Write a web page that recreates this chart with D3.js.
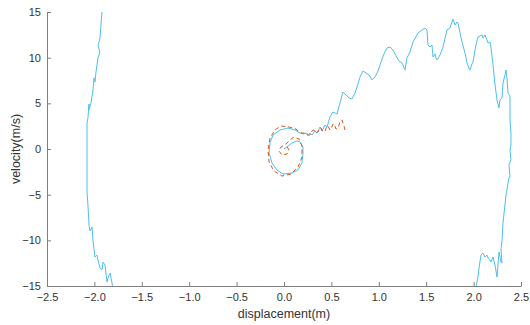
<!DOCTYPE html>
<html>
<head>
<meta charset="utf-8">
<script src="https://d3js.org/d3.v7.min.js"></script>
<style>
  body { margin: 0; background: #fff; }
  svg { display: block; font-family: "Liberation Sans", Arial, sans-serif; }
</style>
</head>
<body>
<svg id="chart" width="530" height="325"></svg>
<script>
// tick values
var xTicks = [-2.5, -2, -1.5, -1, -0.5, 0, 0.5, 1, 1.5, 2, 2.5];
var yTicks = [-15, -10, -5, 0, 5, 10, 15];

// blue trace, main part (displacement m, velocity m/s)
var blueX = [0, 0.084, 0.137, 0.169, 0.2, 0.2, 0.19, 0.148, 0.084, -0.011, -0.074, -0.127, -0.158, -0.148, -0.116, -0.042, 0.042, 0.116, 0.169, 0.2,
  0.243, 0.253, 0.274, 0.295, 0.327, 0.348, 0.38, 0.401, 0.432, 0.454, 0.485, 0.517, 0.559, 0.591, 0.622, 0.654, 0.686, 0.717, 0.749, 0.781,
  0.802, 0.833, 0.865, 0.897, 0.928, 0.96, 0.992, 1.023, 1.055, 1.087, 1.118, 1.15, 1.181, 1.213, 1.245, 1.276, 1.297, 1.329, 1.361, 1.414,
  1.456, 1.487, 1.508, 1.519, 1.54, 1.561, 1.572, 1.593, 1.603, 1.614, 1.646, 1.677, 1.719, 1.751, 1.772, 1.783, 1.804, 1.825, 1.835, 1.857,
  1.878, 1.909, 1.92, 1.931, 1.951, 1.962, 1.983, 1.994, 2.025, 2.046, 2.068, 2.089, 2.099, 2.12, 2.141, 2.152, 2.173, 2.184, 2.205, 2.226,
  2.247, 2.268, 2.278, 2.3, 2.31, 2.331, 2.342, 2.352, 2.363, 2.384, 2.384, 2.394, 2.394, 2.384, 2.394, 2.373, 2.384, 2.373, 2.342, 2.31,
  2.3, 2.289, 2.3, 2.289, 2.268, 2.257, 2.247, 2.226, 2.205, 2.184, 2.173, 2.152, 2.141, 2.12, 2.099, 2.078, 2.057, 2.046, 2.025, 2.015];
var blueV = [0, 0.66, 0.88, 0.77, 0.22, -0.44, -1.53, -2.3, -2.63, -2.74, -2.3, -1.53, -0.44, 0.66, 1.53, 2.08, 2.3, 2.08, 1.75, 1.64,
  1.75, 1.53, 1.75, 1.53, 1.97, 1.75, 2.41, 1.97, 2.63, 2.41, 3.5, 4.05, 3.83, 5.04, 6.24, 5.91, 5.59, 5.48, 6.13, 7.12,
  7.89, 8.54, 8.32, 8.11, 7.56, 7.89, 8.54, 9.53, 10.41, 11.06, 11.17, 10.84, 10.19, 9.64, 9.42, 8.65, 9.97, 10.62, 11.72, 12.71,
  13.03, 13.25, 13.03, 11.39, 11.17, 11.39, 10.08, 10.41, 9.97, 9.75, 10.3, 11.17, 13.03, 13.25, 13.91, 14.24, 13.58, 13.91, 13.8, 12.71,
  11.72, 10.51, 9.97, 9.42, 8.87, 8.65, 9.31, 9.53, 11.39, 12.27, 12.38, 12.49, 12.16, 12.49, 11.94, 11.61, 11.72, 11.06, 9.2, 7.01,
  5.37, 4.49, 5.37, 5.59, 7.23, 8.11, 8.65, 7.78, 6.13, 5.8, 3.18, 1.75, 0.44, -0.11, -1.2, -1.75, -3.07, -3.18, -5.04, -8.11,
  -9.97, -11.06, -12.49, -12.38, -11.28, -12.71, -14.02, -12.71, -11.83, -12.38, -12.16, -11.94, -11.61, -11.83, -11.39, -11.61, -13.03, -14.02, -15.12, -15.66];

// blue trace, left part
var leftX = [-1.915, -1.92, -1.941, -1.962, -1.941, -1.962, -1.983, -1.994, -2.004, -2.015, -2.036, -2.057, -2.057, -2.068, -2.078, -2.078, -2.078, -2.078,
  -2.068, -2.057, -2.046, -2.025, -2.015, -1.994, -1.973, -1.962, -1.941, -1.92, -1.909, -1.888, -1.867, -1.857, -1.835, -1.814, -1.804];
var leftV = [15.5, 15.01, 12.16, 11.28, 10.62, 9.97, 8.43, 7.34, 7.78, 6.46, 5.04, 4.27, 4.93, 3.4, 2.85, -0.11, -2.85, -4.71,
  -6.13, -8.32, -8.98, -8.54, -9.97, -11.83, -11.61, -12.16, -13.03, -13.25, -12.38, -12.71, -14.57, -14.13, -13.58, -14.68, -15.44];

// orange dashed trace
var orangeX = [0.643, 0.633, 0.612, 0.591, 0.57, 0.549, 0.527, 0.517, 0.496, 0.485, 0.464, 0.454, 0.432, 0.411, 0.39, 0.38, 0.359, 0.338, 0.316, 0.295,
  0.274, 0.243, 0.222, 0.19, 0.148, 0.127, 0.053, -0.032, -0.095, -0.148, -0.169, -0.158, -0.105, -0.021, 0.074, 0.148, 0.19, 0.19, 0.158, 0.105,
  0.063, 0.021, -0.032, -0.053, -0.021, 0.032, 0.053, 0.032, 0];
var orangeV = [2.08, 2.52, 3.18, 2.96, 2.3, 2.19, 2.74, 2.74, 2.19, 2.08, 2.52, 2.52, 1.97, 1.86, 2.3, 2.3, 1.86, 1.75, 2.08, 1.97,
  1.53, 1.53, 1.75, 1.75, 1.97, 2.19, 2.41, 2.52, 2.08, 1.2, -0.11, -1.42, -2.41, -2.96, -2.74, -1.97, -0.88, 0.33, 1.1, 1.31,
  0.99, 0.55, 0.22, -0.22, -0.66, -0.55, -0.11, 0.22, 0];

var width = 530, height = 325;
var margin = {top: 12, right: 9, bottom: 39, left: 47};

var svg = d3.select("#chart");

var x = d3.scaleLinear().domain([-2.5, 2.5]).range([margin.left, width - margin.right]);
var y = d3.scaleLinear().domain([-15, 15]).range([height - margin.bottom, margin.top]);

svg.append("clipPath").attr("id", "plotClip")
  .append("rect")
    .attr("x", margin.left).attr("y", margin.top)
    .attr("width", width - margin.left - margin.right)
    .attr("height", height - margin.top - margin.bottom);

var line = d3.line()
  .x(function(d) { return x(d[0]); })
  .y(function(d) { return y(d[1]); });

var plot = svg.append("g").attr("clip-path", "url(#plotClip)");

plot.append("path")
  .datum(d3.zip(leftX, leftV))
  .attr("fill", "none").attr("stroke", "#4DBEEE").attr("stroke-width", 1)
  .attr("d", line);

plot.append("path")
  .datum(d3.zip(blueX, blueV))
  .attr("fill", "none").attr("stroke", "#4DBEEE").attr("stroke-width", 1)
  .attr("stroke-linejoin", "round")
  .attr("d", line);

plot.append("path")
  .datum(d3.zip(orangeX, orangeV))
  .attr("fill", "none").attr("stroke", "#D95319").attr("stroke-width", 1)
  .attr("stroke-dasharray", "4,3")
  .attr("d", line);

// axes, ticks pointing inwards
var xAxis = svg.append("g")
  .attr("transform", "translate(0," + (height - margin.bottom) + ")")
  .call(d3.axisBottom(x).tickValues(xTicks).tickSize(-4).tickSizeOuter(0).tickPadding(7));

var yAxis = svg.append("g")
  .attr("transform", "translate(" + margin.left + ",0)")
  .call(d3.axisLeft(y).tickValues(yTicks).tickSize(-4).tickSizeOuter(0).tickPadding(6));

[xAxis, yAxis].forEach(function(ax) {
  ax.select(".domain").attr("stroke", "#7f7f7f");
  ax.selectAll(".tick line").attr("stroke", "#7f7f7f");
  ax.selectAll(".tick text")
    .attr("fill", "#333")
    .style("font-size", "11px")
    .style("font-family", "Liberation Sans, Arial, sans-serif");
});

svg.append("text")
  .attr("x", x(0)).attr("y", 318)
  .attr("text-anchor", "middle")
  .attr("fill", "#333")
  .style("font-size", "12.5px")
  .text("displacement(m)");

svg.append("text")
  .attr("transform", "translate(20," + y(0) + ") rotate(-90)")
  .attr("text-anchor", "middle")
  .attr("fill", "#333")
  .style("font-size", "12.5px")
  .text("velocity(m/s)");
</script>
</body>
</html>
